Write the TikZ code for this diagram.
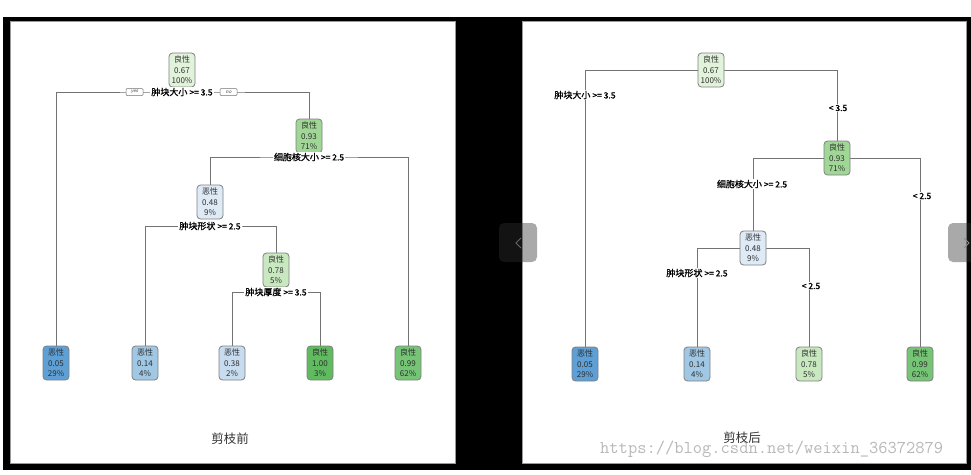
\documentclass[tikz,border=0pt]{standalone}
\usepackage{fontspec}
\newfontfamily\cjk{Noto Sans CJK SC}
\newfontfamily\cjkb[FakeBold=1.2]{Noto Sans CJK SC}
\pgfdeclarelayer{bg}
\pgfdeclarelayer{lines}
\pgfsetlayers{bg,lines,main}
\definecolor{b05}{RGB}{94,160,213}
\definecolor{b14}{RGB}{160,200,228}
\definecolor{b38}{RGB}{200,220,240}
\definecolor{b48}{RGB}{222,234,246}
\definecolor{g67}{RGB}{226,243,220}
\definecolor{g78}{RGB}{200,233,192}
\definecolor{g93}{RGB}{160,215,150}
\definecolor{g99}{RGB}{118,196,118}
\definecolor{g100}{RGB}{96,186,96}
\definecolor{txt}{RGB}{45,45,45}
\tikzset{
  tnode/.style={draw=black!50, line width=0.8pt, rounded corners=3.5pt,
    minimum width=26pt, minimum height=34pt, inner sep=0pt, align=center,
    font=\cjk\fontsize{8}{10.5}\selectfont, text=txt},
  slabel/.style={fill=white, inner xsep=1.2pt, inner ysep=1pt, text=black,
    font=\cjkb\fontsize{9}{10}\selectfont},
  ynbox/.style={draw=black!55, fill=white, line width=0.5pt, rounded corners=1pt,
    minimum width=17pt, minimum height=7pt, inner sep=0pt,
    font=\sffamily\itshape\fontsize{5.5}{5.5}\selectfont, text=black!70},
  conn/.style={draw=black!55, line width=0.7pt},
  ttl/.style={font=\cjk\fontsize{12.5}{13}\selectfont, text=black!80}
}
\newcommand{\cmpop}[1]{{\fontsize{8.5}{10}\selectfont #1}}
\begin{document}
\begin{tikzpicture}[x=1pt,y=-1pt]
\useasboundingbox (0,0) rectangle (971,474);
\begin{pgfonlayer}{bg}
  \fill[white] (0,0) rectangle (971,474);
  \fill[black] (3,17) rectangle (971,470);
  \filldraw[fill=white, draw=black!40, line width=0.6pt] (10.5,21.5) rectangle (455,463);
  \filldraw[fill=white, draw=black!40, line width=0.6pt] (522,21.5) rectangle (966,463);
\end{pgfonlayer}

% ---------- left tree (before pruning)
\node[tnode, fill=g67] (Lr) at (182,70) {良性\\0.67\\100\%};
\node[slabel] (Ls1) at (182,92) {肿块大小 \cmpop{>= 3.5}};
\node[ynbox] (Lyes) at (134.5,92) {yes};
\node[ynbox] (Lno) at (228.5,92) {no};
\node[tnode, fill=g93] (Ln2) at (309,136) {良性\\0.93\\71\%};
\node[slabel] (Ls2) at (309,157) {细胞核大小 \cmpop{>= 2.5}};
\node[tnode, fill=b48] (Ln3) at (210,202) {恶性\\0.48\\9\%};
\node[slabel] (Ls3) at (210,226) {肿块形状 \cmpop{>= 2.5}};
\node[tnode, fill=g78] (Ln4) at (276,270) {良性\\0.78\\5\%};
\node[slabel] (Ls4) at (276,292) {肿块厚度 \cmpop{>= 3.5}};
\node[tnode, fill=b05] (Ll1) at (56,363) {恶性\\0.05\\29\%};
\node[tnode, fill=b14] (Ll2) at (145,363) {恶性\\0.14\\4\%};
\node[tnode, fill=b38] (Ll3) at (232,363) {恶性\\0.38\\2\%};
\node[tnode, fill=g100] (Ll4) at (320,363) {良性\\1.00\\3\%};
\node[tnode, fill=g99] (Ll5) at (408,363) {良性\\0.99\\62\%};
\node[ttl] (T1) at (230,439) {剪枝前};

\begin{pgfonlayer}{lines}
  \draw[conn] (Ll1.north) |- (Ls1.center) -| (Ln2.north);
  \draw[conn] (Ln3.north) |- (Ls2.center) -| (Ll5.north);
  \draw[conn] (Ll2.north) |- (Ls3.center) -| (Ln4.north);
  \draw[conn] (Ll3.north) |- (Ls4.center) -| (Ll4.north);
\end{pgfonlayer}

% ---------- right tree (after pruning)
\node[tnode, fill=g67] (Rr) at (711,70) {良性\\0.67\\100\%};
\node[tnode, fill=g93] (Rn2) at (837,158) {良性\\0.93\\71\%};
\node[tnode, fill=b48] (Rn3) at (753,248) {恶性\\0.48\\9\%};
\node[tnode, fill=b05] (Rl1) at (585,364) {恶性\\0.05\\29\%};
\node[tnode, fill=b14] (Rl2) at (697,364) {恶性\\0.14\\4\%};
\node[tnode, fill=g78] (Rl3) at (809,364) {良性\\0.78\\5\%};
\node[tnode, fill=g99] (Rl4) at (920,364) {良性\\0.99\\62\%};

\begin{pgfonlayer}{lines}
  \draw[conn] (Rr.west) -| (Rl1.north);
  \draw[conn] (Rr.east) -| (Rn2.north);
  \draw[conn] (Rn2.west) -| (Rn3.north);
  \draw[conn] (Rn2.east) -| (Rl4.north);
  \draw[conn] (Rn3.west) -| (Rl2.north);
  \draw[conn] (Rn3.east) -| (Rl3.north);
\end{pgfonlayer}

\node[slabel] (Rs1) at (585,95) {肿块大小 \cmpop{>= 3.5}};
\node[slabel] (Rs1n) at (838,108) {\cmpop{< 3.5}};
\node[slabel] (Rs2) at (752,184) {细胞核大小 \cmpop{>= 2.5}};
\node[slabel] (Rs2n) at (922,196) {\cmpop{< 2.5}};
\node[slabel] (Rs3) at (697,273) {肿块形状 \cmpop{>= 2.5}};
\node[slabel] (Rs3n) at (811,286) {\cmpop{< 2.5}};

% watermark and title
\node[font=\ttfamily\fontsize{18}{18}\selectfont, text=black!28, anchor=west, inner sep=0pt] (wm) at (600,449) {https://blog.csdn.net/weixin\_36372879};
\node[ttl] (T2) at (742,438) {剪枝后};

% overlay buttons
\fill[black!81, fill opacity=0.41, rounded corners=5pt] (499,223) rectangle (537,262);
\draw[black!60, line width=1pt] (521,238) -- (516,243) -- (521,248);
\fill[black!81, fill opacity=0.41, rounded corners=5pt] (948,223) rectangle (990,262);
\draw[black!45, line width=1pt] (964,238) -- (969,243) -- (964,248);
\end{tikzpicture}
\end{document}
